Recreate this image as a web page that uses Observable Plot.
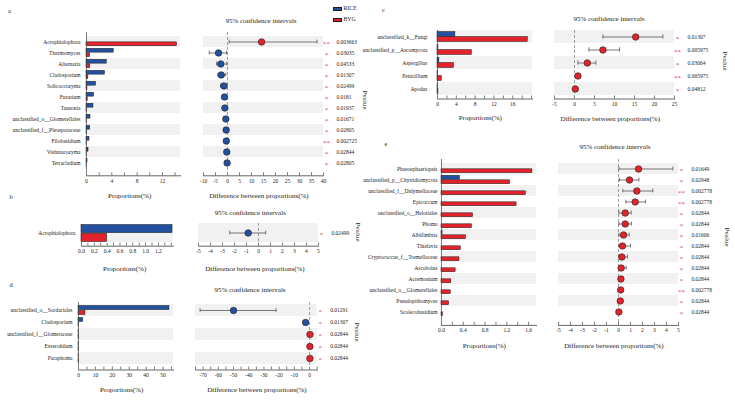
<!DOCTYPE html>
<html><head><meta charset="utf-8">
<script src="https://cdn.jsdelivr.net/npm/d3@7"></script>
<script src="https://cdn.jsdelivr.net/npm/@observablehq/plot@0.6"></script>
<style>
body{margin:0;background:#fff;}
#root{position:relative;width:735px;height:400px;overflow:hidden;font-family:"Liberation Serif","Times New Roman",serif;color:#222;background:#fff;}
.t{position:absolute;white-space:nowrap;line-height:1;transform:translate(-50%,-50%);}
</style></head><body><div id="root"></div>
<script>
// ---------- Panel a ----------
const aGenera = ["Acrophialophora","Thermomyces","Alternaria","Cladosporium","Solicoccozyma","Fusarium","Tausonia","unclassified_o__Glomerellales","unclassified_f__Pleosporaceae","Filobasidium","Vishniacozyma","Tetracladium"];
const aRice = [0, 4.3, 3.2, 2.9, 1.5, 1.2, 1.1, 0.63, 0.58, 0.47, 0.32, 0.16];
const aBYG  = [14.3, 0.58, 0.6, 0.3, 0.15, 0.2, 0.05, 0.02, 0.03, 0.02, 0.02, 0.01];
const aDiff = [14.2, -3.75, -2.8, -2.6, -1.5, -1.25, -1.1, -0.7, -0.55, -0.5, -0.3, -0.16];
const aLow  = [0.7, -7.6, -4.6, -4.0, -2.9, -1.8, -1.6, -1.0, -0.85, -0.8, -0.5, -0.3];
const aHigh = [37.3, -0.4, -0.3, -0.7, -0.2, -0.6, -0.5, -0.3, -0.25, -0.2, -0.1, -0.03];
const aP = ["0.003663","0.03035","0.04533","0.01307","0.02499","0.0181","0.01937","0.01671","0.02805","0.002725","0.02844","0.02805"];
const aBarTicks = [0,2,4,6,8,10,12,14];
const aBarLabels = [0,4,8,12];
const aCITicks = [-10,-5,0,5,10,15,20,25,30,35,40];

// ---------- Panel b ----------
const bGenera = ["Acrophialophora"];
const bRice = [1.42];
const bBYG = [0.40];
const bDiff = [-0.86];
const bLow = [-2.4];
const bHigh = [0.6];
const bP = ["0.02499"];
const bBarTicks = [0,0.1,0.2,0.3,0.4,0.5,0.6,0.7,0.8,0.9,1.0,1.1,1.2,1.3,1.4];
const bBarLabels = [0,0.2,0.4,0.6,0.8,1.0,1.2];
const bCITicks = [-5,-4,-3,-2,-1,0,1,2,3,4,5];

// ---------- Panel d ----------
const dGenera = ["unclassified_o__Sordariales","Cladosporium","unclassified_f__Glomeraceae","Exserohilum","Paraphoma"];
const dRice = [53.8, 2.8, 0.05, 0.05, 0.05];
const dBYG = [4.1, 0.2, 0.3, 0.25, 0.25];
const dDiff = [-50, -2.6, 0.25, 0.2, 0.2];
const dLow = [-72, -3.8, 0.05, 0.05, 0.05];
const dHigh = [-22, -1.4, 0.45, 0.4, 0.4];
const dP = ["0.01291","0.01307","0.02844","0.02844","0.02844"];
const dBarTicks = [0,5,10,15,20,25,30,35,40,45,50,55];
const dBarLabels = [0,10,20,30,40,50];
const dCITicks = [-75,-70,-65,-60,-55,-50,-45,-40,-35,-30,-25,-20,-15,-10,-5,0,5];
const dCILabels = [-70,-60,-50,-40,-30,-20,-10,0];

// ---------- Panel c ----------
const cGenera = ["unclassified_k__Fungi","unclassified_p__Ascomycota","Aspergillus","Penicillium","Apodus"];
const cRice = [3.8, 0.2, 0.4, 0.05, 0.02];
const cBYG = [19.2, 7.3, 3.5, 0.9, 0.2];
const cDiff = [15.3, 7.1, 3.2, 0.85, 0.2];
const cLow = [7.1, 3.6, 0.85, 0.3, 0.05];
const cHigh = [22.1, 11.25, 5.35, 1.4, 0.4];
const cP = ["0.01307","0.005975","0.03064","0.005975","0.04812"];
const cBarTicks = [0,2,4,6,8,10,12,14,16,18,20];
const cBarLabels = [0,4,8,12,16];
const cCITicks = [-5,0,5,10,15,20,25];

// ---------- Panel e ----------
const eGenera = ["Phaeosphaeriopsis","unclassified_p__Chytridiomycota","unclassified_f__Didymellaceae","Epicoccum","unclassified_o__Helotiales","Phoma","Albifimbria","Thielavia","Cryptococcus_f__Tremellaceae","Ascobolus","Acremonium","unclassified_o__Glomerellales","Pseudopithomyces","Scolecobasidium"];
const eRice = [0, 0.34, 0, 0, 0, 0, 0.02, 0, 0, 0, 0, 0, 0, 0];
const eBYG = [1.67, 1.26, 1.55, 1.38, 0.58, 0.56, 0.45, 0.355, 0.33, 0.26, 0.18, 0.17, 0.14, 0.03];
const eDiff = [1.67, 0.92, 1.53, 1.39, 0.56, 0.56, 0.42, 0.33, 0.28, 0.22, 0.2, 0.18, 0.15, 0.03];
const eLow = [0.03, 0.08, 0.36, 0.61, 0.03, 0.03, 0.03, 0.03, 0.05, 0.05, 0.05, 0.05, 0.04, 0.0];
const eHigh = [4.53, 1.7, 2.86, 2.25, 1.06, 1.08, 0.89, 1.0, 0.75, 0.64, 0.4, 0.38, 0.3, 0.08];
const eP = ["0.01649","0.02948","0.002778","0.002778","0.02844","0.02844","0.01606","0.02844","0.02844","0.02844","0.02844","0.002778","0.02844","0.02844"];
const eBarTicks = [0,0.2,0.4,0.6,0.8,1.0,1.2,1.4,1.6];
const eBarLabels = [0,0.4,0.8,1.2,1.6];
const eCITicks = [-5,-4,-3,-2,-1,0,1,2,3,4,5];

const groups = ["RICE","BYG"];

// ---------- drawing ----------
const BLUE = "#23509f", RED = "#e3232b", BAND = "#f1f1f1";
const FONT = '"Liberation Serif","Times New Roman",serif';
const root = document.getElementById("root");

function fmtFrom(labels, digits) {
  return d => labels.some(l => Math.abs(l - d) < 1e-9) ? (digits ? d.toFixed(digits) : String(d)) : "";
}

function put(svg, left, top) {
  svg.style.position = "absolute";
  svg.style.left = left + "px";
  svg.style.top = top + "px";
  root.appendChild(svg);
}

function barChart(o) {
  const rows = o.cats.map((c, i) => ({c, rice: o.rice[i], byg: o.byg[i], band: i % 2 === 0}));
  const bw = (o.y1 - o.y0) / rows.length;
  const ML = 120, MR = 6, MT = 2, MB = 22;
  const svg = Plot.plot({
    width: (o.x1 - o.x0) + ML + MR, height: (o.y1 - o.y0) + MT + MB,
    marginLeft: ML, marginRight: MR, marginTop: MT, marginBottom: MB,
    style: {background: "none", fontFamily: FONT, fontSize: "5.5px", color: "#222", overflow: "visible"},
    x: {domain: o.domain},
    y: {domain: o.cats, padding: 0},
    marks: [
      Plot.cell(rows.filter(d => d.band), {y: "c", fill: BAND}),
      Plot.barX(rows, {x: "rice", y: "c", fill: BLUE, stroke: "#1a1a1a", strokeWidth: 0.5, insetTop: o.pad, insetBottom: bw / 2}),
      Plot.barX(rows, {x: "byg", y: "c", fill: RED, stroke: "#1a1a1a", strokeWidth: 0.5, insetTop: bw / 2, insetBottom: o.pad}),
      Plot.ruleX([0], {stroke: "#444", strokeWidth: 0.7}),
      Plot.axisY({tickSize: 0, tickPadding: o.labelPad, label: null, fontSize: 5.5}),
      Plot.axisX({ticks: o.ticks, tickSize: 3, tickPadding: 3, tickFormat: fmtFrom(o.labels, o.digits), label: null, strokeWidth: 0.6, fontSize: 5.5}),
      Plot.frame({anchor: "bottom", insetBottom: -3, strokeWidth: 0.7})
    ]
  });
  put(svg, o.x0 - ML, o.y0 - MT);
}

function ciChart(o) {
  const rows = o.cats.map((c, i) => ({c, diff: o.diff[i], lo: o.lo[i], hi: o.hi[i], p: o.p[i],
    star: parseFloat(o.p[i]) < 0.01 ? "**" : "*", band: i % 2 === 0}));
  const bw = (o.y1 - o.y0) / rows.length;
  const cap = Math.max(0, (bw - 4.5) / 2);
  const ML = 4, MR = 50, MT = 2, MB = 22;
  const svg = Plot.plot({
    width: (o.x1 - o.x0) + ML + MR, height: (o.y1 - o.y0) + MT + MB,
    marginLeft: ML, marginRight: MR, marginTop: MT, marginBottom: MB,
    style: {background: "none", fontFamily: FONT, fontSize: "5.5px", color: "#222", overflow: "visible"},
    x: {domain: o.domain},
    y: {domain: o.cats, padding: 0, axis: null},
    marks: [
      Plot.cell(rows.filter(d => d.band), {y: "c", fill: BAND}),
      Plot.ruleX([0], {stroke: "#777", strokeWidth: 0.7, strokeDasharray: "3,2"}),
      Plot.link(rows, {x1: "lo", x2: "hi", y1: "c", y2: "c", stroke: "#555", strokeWidth: 0.8}),
      Plot.tickX(rows, {x: "lo", y: "c", stroke: "#555", strokeWidth: 0.8, insetTop: cap, insetBottom: cap}),
      Plot.tickX(rows, {x: "hi", y: "c", stroke: "#555", strokeWidth: 0.8, insetTop: cap, insetBottom: cap}),
      Plot.dot(rows, {x: "diff", y: "c", r: 3.3, fill: d => d.diff > 0 ? RED : BLUE, stroke: "#222", strokeWidth: 0.6}),
      Plot.text(rows, {y: "c", text: "star", frameAnchor: "right", dx: 3, dy: 1.5, textAnchor: "middle", fill: "#e8383f", fontSize: 7}),
      Plot.text(rows, {y: "c", text: "p", frameAnchor: "right", dx: 13, textAnchor: "start", fill: "#222", fontSize: 5.5}),
      Plot.axisX({ticks: o.ticks, tickSize: 3, tickPadding: 3, tickFormat: fmtFrom(o.labels || o.ticks, 0), label: null, strokeWidth: 0.6, fontSize: 5.5}),
      Plot.frame({anchor: "bottom", insetBottom: -3, strokeWidth: 0.7})
    ]
  });
  put(svg, o.x0 - ML, o.y0 - MT);
}

function txt(s, x, y, size, rot) {
  const el = document.createElement("div");
  el.className = "t";
  el.textContent = s;
  el.style.left = x + "px";
  el.style.top = y + "px";
  el.style.fontSize = size + "px";
  if (rot) el.style.transform = `translate(-50%,-50%) rotate(${rot}deg)`;
  root.appendChild(el);
}

// Panel a
barChart({cats: aGenera, rice: aRice, byg: aBYG, x0: 86, x1: 180, y0: 32.2, y1: 172.5, domain: [0, 14.85], ticks: aBarTicks, labels: aBarLabels, pad: 1.3, labelPad: 6});
ciChart({cats: aGenera, diff: aDiff, lo: aLow, hi: aHigh, p: aP, x0: 203.3, x1: 323.3, y0: 32.2, y1: 172.5, domain: [-10, 40], ticks: aCITicks});
// Panel b
barChart({cats: bGenera, rice: bRice, byg: bBYG, x0: 81, x1: 172.7, y0: 224, y1: 242.7, domain: [0, 1.43], ticks: bBarTicks, labels: bBarLabels, digits: 1, pad: 0.5, labelPad: 6});
ciChart({cats: bGenera, diff: bDiff, lo: bLow, hi: bHigh, p: bP, x0: 198.3, x1: 318.3, y0: 223, y1: 242.7, domain: [-5, 5], ticks: bCITicks});
// Panel d
barChart({cats: dGenera, rice: dRice, byg: dBYG, x0: 78.3, x1: 173.3, y0: 302, y1: 366.5, domain: [0, 56.2], ticks: dBarTicks, labels: dBarLabels, pad: 1.5, labelPad: 6});
ciChart({cats: dGenera, diff: dDiff, lo: dLow, hi: dHigh, p: dP, x0: 195, x1: 316.7, y0: 302, y1: 366.5, domain: [-75, 5], ticks: dCITicks, labels: dCILabels});
// Panel c
barChart({cats: cGenera, rice: cRice, byg: cBYG, x0: 437.3, x1: 532.3, y0: 30, y1: 95.5, domain: [0, 20.2], ticks: cBarTicks, labels: cBarLabels, pad: 1.5, labelPad: 10});
ciChart({cats: cGenera, diff: cDiff, lo: cLow, hi: cHigh, p: cP, x0: 554.3, x1: 674.3, y0: 30, y1: 95.5, domain: [-5, 25], ticks: cCITicks});
// Panel e
barChart({cats: eGenera, rice: eRice, byg: eBYG, x0: 440.7, x1: 535.7, y0: 158.9, y1: 321.8, domain: [0, 1.745], ticks: eBarTicks, labels: eBarLabels, digits: 1, pad: 1.3, labelPad: 4});
ciChart({cats: eGenera, diff: eDiff, lo: eLow, hi: eHigh, p: eP, x0: 558.3, x1: 678.3, y0: 158.9, y1: 321.8, domain: [-5, 5], ticks: eCITicks});

// Panel letters
txt("a", 9.5, 11, 6.5);
txt("b", 11, 196.7, 6.5);
txt("d", 11, 285, 6.5);
txt("c", 383.5, 9.5, 6.5);
txt("e", 386, 143.5, 6.5);

// Titles
const CI = "95% confidence intervals", DIFF = "Difference between proportions(%)", PROP = "Proportions(%)";
txt(CI, 261, 20.7, 7); txt(CI, 250.3, 212.7, 7); txt(CI, 250, 290, 7); txt(CI, 609, 19.3, 7); txt(CI, 615, 147.3, 7);
txt(DIFF, 259, 196, 7); txt(DIFF, 255, 269.3, 7); txt(DIFF, 257, 390, 7); txt(DIFF, 610.3, 118.7, 7); txt(DIFF, 614, 346, 7);
txt(PROP, 129.7, 196, 7); txt(PROP, 124.7, 269, 7); txt(PROP, 121.7, 390, 7); txt(PROP, 480.3, 118.3, 7); txt(PROP, 484.3, 346, 7);
txt("Pvalue", 363.7, 100, 7, 90); txt("Pvalue", 356.7, 231.7, 7, 90); txt("Pvalue", 356, 331.7, 7, 90);
txt("Pvalue", 724.3, 60.8, 7, 90); txt("Pvalue", 725.7, 236.7, 7, 90);

// Legend
const legColors = [BLUE, RED];
groups.forEach((g, i) => {
  const box = document.createElement("div");
  box.style.cssText = `position:absolute;left:332.7px;top:${6.8 + i * 11}px;width:9px;height:4.5px;background:${legColors[i]};border:0.5px solid #1a1a1a;box-sizing:border-box;`;
  root.appendChild(box);
  const t = document.createElement("div");
  t.className = "t";
  t.style.transform = "translate(0,-50%)";
  t.style.left = "343.5px"; t.style.top = (9 + i * 11) + "px"; t.style.fontSize = "5.8px";
  t.textContent = g;
  root.appendChild(t);
});
</script></body></html>
